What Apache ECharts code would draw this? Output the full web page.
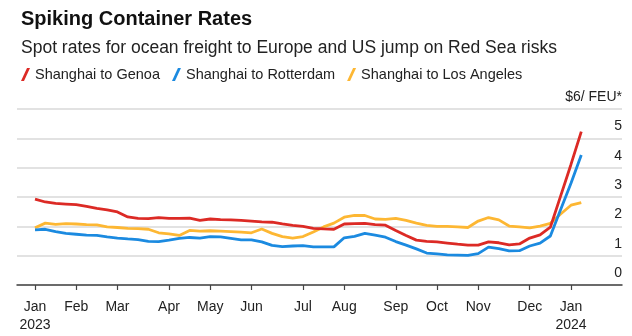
<!DOCTYPE html>
<html>
<head>
<meta charset="utf-8">
<script src="https://cdn.jsdelivr.net/npm/echarts@6/dist/echarts.min.js"></script>
<style>
html,body{margin:0;padding:0;background:#fff;}
#chart{width:632px;height:336px;}
</style>
</head>
<body>
<div id="chart"></div>
<script>
// Weekly observations (Thursdays), starting 2023-01-05
const startDate = '2023-01-05';
const seriesNames = ['Shanghai to Genoa', 'Shanghai to Rotterdam', 'Shanghai to Los Angeles'];

// $ thousands per FEU
const genoa = [2.93,2.83,2.78,2.76,2.74,2.68,2.61,2.56,2.49,2.32,2.27,2.26,2.30,2.27,2.27,2.28,2.20,2.25,2.23,2.22,2.20,2.18,2.15,2.14,2.08,2.03,2.00,1.93,1.91,1.90,2.08,2.09,2.10,2.06,2.04,1.86,1.69,1.53,1.49,1.47,1.43,1.39,1.36,1.36,1.47,1.44,1.37,1.40,1.60,1.71,1.97,3.04,4.11,5.23];
const rotterdam = [1.88,1.90,1.82,1.76,1.73,1.70,1.69,1.64,1.60,1.57,1.55,1.49,1.48,1.53,1.59,1.62,1.60,1.65,1.64,1.59,1.54,1.54,1.47,1.35,1.31,1.33,1.34,1.30,1.30,1.30,1.61,1.66,1.76,1.70,1.63,1.48,1.36,1.23,1.09,1.06,1.03,1.02,1.01,1.07,1.29,1.24,1.16,1.17,1.33,1.43,1.67,2.57,3.47,4.43];
const losAngeles = [1.95,2.11,2.07,2.09,2.08,2.06,2.05,1.98,1.96,1.93,1.92,1.90,1.78,1.74,1.69,1.86,1.84,1.85,1.84,1.82,1.80,1.78,1.91,1.76,1.65,1.60,1.65,1.81,1.98,2.11,2.31,2.37,2.37,2.25,2.24,2.27,2.20,2.11,2.03,2.00,2.00,1.98,1.96,2.18,2.30,2.22,2.01,1.98,1.95,2.01,2.10,2.42,2.72,2.81];

// Month ticks sit on the first weekly observation of each month (week index)
const tickWeeks = [0,4,8,13,17,21,26,30,35,39,43,48,52];
const tickLabels = ['Jan\n2023','Feb','Mar','Apr','May','Jun','Jul','Aug','Sep','Oct','Nov','Dec','Jan\n2024'];

const yTicks = [0,1,2,3,4,5,6];
const yTopLabel = '$6/ FEU*';

const colors = ['#dc2a25', '#1b8ae0', '#fdb733'];
const FONT = '"Liberation Sans", Arial, sans-serif';

function toPairs(arr){ return arr.map((v,i)=>[i,v]); }

const chart = echarts.init(document.getElementById('chart'), null, {renderer:'canvas'});
const slash = 'path://M6,0 L9,0 L3,13 L0,13 Z';

chart.setOption({
  animation: false,
  backgroundColor: '#fff',
  textStyle: {fontFamily: FONT},
  title: [
    {text: 'Spiking Container Rates', left: 16, top: 4,
     textStyle: {fontFamily: FONT, fontSize: 20, fontWeight: 'bold', color: '#111'}},
    {text: 'Spot rates for ocean freight to Europe and US jump on Red Sea risks', left: 16, top: 34,
     textStyle: {fontFamily: FONT, fontSize: 17.5, fontWeight: 'normal', color: '#222'}}
  ],
  legend: {
    left: 16, top: 62, itemGap: 12, itemWidth: 9, itemHeight: 13,
    icon: slash,
    textStyle: {fontFamily: FONT, fontSize: 14.5, color: '#222'},
    data: seriesNames
  },
  grid: {left: 17, right: 10, top: 109, bottom: 51, containLabel: false},
  xAxis: {
    type: 'value', min: -1.746, max: 56.95,
    splitLine: {show: false},
    axisLine: {show: true, onZero: false, lineStyle: {color: '#444', width: 1.5}},
    axisTick: {show: true, customValues: tickWeeks, length: 5, lineStyle: {color: '#444', width: 1.2}},
    axisLabel: {
      customValues: tickWeeks, margin: 13, fontFamily: FONT, fontSize: 14, lineHeight: 18, color: '#222',
      formatter: function(v){ const k = tickWeeks.indexOf(Math.round(v)); return k >= 0 ? tickLabels[k] : ''; }
    }
  },
  yAxis: {
    type: 'value', position: 'right', min: 0, max: 6, interval: 1,
    axisLine: {show: false}, axisTick: {show: false},
    splitLine: {show: true, lineStyle: {color: '#d9d9d9', width: 1.5}},
    axisLabel: {
      inside: true, margin: 0, align: 'right', verticalAlign: 'bottom', padding: [0,0,5,0],
      fontFamily: FONT, fontSize: 14, color: '#222',
      formatter: function(v){ return v === 6 ? yTopLabel : String(v); }
    }
  },
  series: [genoa, rotterdam, losAngeles].map((d, i) => ({
    name: seriesNames[i], type: 'line', data: toPairs(d), showSymbol: false, symbol: 'none',
    lineStyle: {color: colors[i], width: 2.8}, itemStyle: {color: colors[i]}, z: 3 - i
  }))
});
</script>
</body>
</html>
